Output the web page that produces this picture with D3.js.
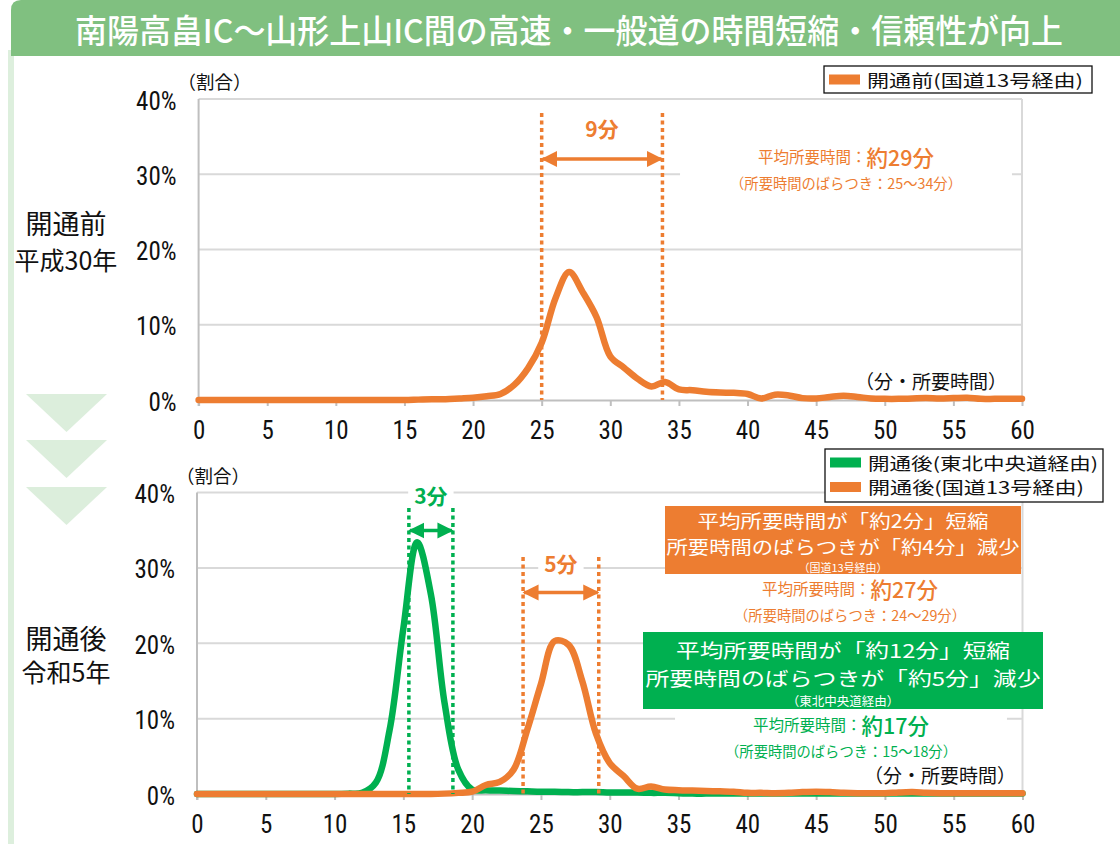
<!DOCTYPE html>
<html>
<head>
<meta charset="utf-8">
<script src="https://cdn.jsdelivr.net/npm/d3@7/dist/d3.min.js"></script>
<style>
  html, body { margin: 0; padding: 0; background: #ffffff; }
  svg { display: block; }
</style>
</head>
<body>
<script>
// ---------------- DATA ----------------
const minutes = d3.range(0, 61);
const xTickValues = [0, 5, 10, 15, 20, 25, 30, 35, 40, 45, 50, 55, 60];
const yTickValues = [0, 10, 20, 30, 40];

// 開通前(国道13号経由) 平成30年  (% share per minute)
const beforeRoute13 = [
  0, 0, 0, 0, 0, 0, 0, 0, 0, 0,
  0, 0, 0, 0, 0, 0, 0.05, 0.1, 0.1, 0.2,
  0.3, 0.5, 0.8, 2.0, 4.2, 7.6, 13.5, 17.0, 14.3, 11.0,
  5.8, 4.3, 2.8, 1.8, 2.4, 1.4, 1.3, 1.1, 1.0, 0.95,
  0.8, 0.2, 0.7, 0.6, 0.25, 0.2, 0.4, 0.55, 0.4, 0.2,
  0.15, 0.15, 0.2, 0.25, 0.2, 0.25, 0.3, 0.15, 0.15, 0.15,
  0.15
];
// 開通後(東北中央道経由) 令和5年
const afterTohokuChuo = [
  0, 0, 0, 0, 0, 0, 0, 0, 0, 0,
  0, 0.05, 0.15, 1.5, 8.5, 22.0, 33.4, 26.5, 12.0, 3.2,
  0.6, 0.5, 0.45, 0.4, 0.35, 0.3, 0.3, 0.25, 0.25, 0.25,
  0.2, 0.2, 0.2, 0.15, 0.15, 0.1, 0.05, 0.05, 0.05, 0.05,
  0.05, 0.05, 0.05, 0.05, 0.05, 0.05, 0.05, 0.05, 0.05, 0.05,
  0.05, 0.05, 0.05, 0.05, 0.05, 0.05, 0.05, 0.05, 0.05, 0.05,
  0.05
];
// 開通後(国道13号経由) 令和5年
const afterRoute13 = [
  0, 0, 0, 0, 0, 0, 0, 0, 0, 0,
  0, 0, 0, 0, 0, 0, 0, 0, 0.05, 0.15,
  0.3, 1.2, 1.6, 3.2, 8.5, 14.6, 20.3, 19.8, 15.0, 8.0,
  4.1, 2.4, 0.7, 1.0, 0.6, 0.5, 0.45, 0.4, 0.35, 0.3,
  0.15, 0.15, 0.1, 0.15, 0.25, 0.3, 0.25, 0.15, 0.1, 0.1,
  0.1, 0.2, 0.25, 0.15, 0.1, 0.1, 0.1, 0.1, 0.1, 0.1,
  0.1
];

// spread ranges (minutes) marked with dotted lines
const rangeBefore13 = [25, 33.8];
const rangeAfterChuo = [15.4, 18.6];
const rangeAfter13 = [23.7, 29.2];

const titleText = "南陽高畠IC～山形上山IC間の高速・一般道の時間短縮・信頼性が向上";
const legendTop = ["開通前(国道13号経由)"];
const legendBottom = ["開通後(東北中央道経由)", "開通後(国道13号経由)"];

// ---------------- STYLE ----------------
const ORANGE = "#ED7D31";
const GREEN = "#00B050";
const GRID = "#D9D9D9";
const AXIS = "#BFBFBF";
const JP = "'Noto Sans CJK JP', 'Noto Sans', sans-serif";
const NUM = "'Liberation Sans Narrow', 'Arial Narrow', 'Roboto Condensed', 'Liberation Sans', sans-serif";

const svg = d3.select("body").append("svg").attr("width", 1120).attr("height", 844);

// defs: arrow markers
const defs = svg.append("defs");
[["arrowO", ORANGE], ["arrowG", GREEN]].forEach(([id, c]) => {
  defs.append("marker").attr("id", id)
    .attr("viewBox", "0 0 10 10").attr("refX", 9).attr("refY", 5)
    .attr("markerWidth", 4.6).attr("markerHeight", 4.6)
    .attr("markerUnits", "strokeWidth")
    .attr("orient", "auto-start-reverse")
    .append("path").attr("d", "M0,0 L10,5 L0,10 z").attr("fill", c);
});

// ---------------- FRAME / TITLE ----------------
svg.append("rect").attr("x", 8).attr("y", 50).attr("width", 6).attr("height", 800).attr("fill", "#DDEFDD");
svg.append("path")
  .attr("d", "M11,56 L11,10 Q11,0 21,0 L1120,0 L1120,56 Z")
  .attr("fill", "#80C080");
svg.append("text").attr("x", 569).attr("y", 29)
  .attr("text-anchor", "middle").attr("dominant-baseline", "central")
  .attr("font-family", JP).attr("font-size", 33).attr("font-weight", 500)
  .attr("fill", "#ffffff")
  .attr("textLength", 988).attr("lengthAdjust", "spacingAndGlyphs")
  .text(titleText);

// triangles
[394, 440, 487].forEach(t => {
  svg.append("polygon")
    .attr("points", `26,${t} 107,${t} 66.5,${t + 38}`)
    .attr("fill", "#DCEEDC");
});

// row labels
function rowLabel(lines, ys, sizes) {
  lines.forEach((l, i) => {
    svg.append("text").attr("x", 66).attr("y", ys[i])
      .attr("text-anchor", "middle").attr("dominant-baseline", "central")
      .attr("font-family", JP).attr("font-size", sizes[i]).attr("fill", "#111")
      .text(l);
  });
}
rowLabel(["開通前", "平成30年"], [222, 259], [27, 25]);
rowLabel(["開通後", "令和5年"], [637, 671], [27, 25]);

// ---------------- PANELS ----------------
function drawPanel(cfg) {
  const { x, y, series } = cfg;
  const g = svg.append("g");
  const [x0, x1] = x.range();
  const [yb, yt] = y.range();

  g.selectAll(".grid").data(yTickValues.filter(d => d > 0)).enter()
    .append("line")
    .attr("x1", x0).attr("x2", x1)
    .attr("y1", d => y(d)).attr("y2", d => y(d))
    .attr("stroke", GRID).attr("stroke-width", 2);
  g.append("line").attr("x1", x1).attr("x2", x1).attr("y1", yt).attr("y2", yb)
    .attr("stroke", GRID).attr("stroke-width", 2);
  g.append("line").attr("x1", x0).attr("x2", x0).attr("y1", yt).attr("y2", yb + 6)
    .attr("stroke", AXIS).attr("stroke-width", 2);

  const xa = g.append("g").attr("transform", `translate(0,${yb})`)
    .call(d3.axisBottom(x).tickValues(xTickValues).tickSize(6).tickPadding(15).tickSizeOuter(0));
  xa.select(".domain").attr("stroke", AXIS).attr("stroke-width", 2);
  xa.selectAll(".tick line").attr("stroke", AXIS).attr("stroke-width", 2);
  xa.selectAll(".tick text").attr("font-family", NUM).attr("font-size", 25).attr("fill", "#111");

  const ya = g.append("g").attr("transform", `translate(${x0},0)`)
    .call(d3.axisLeft(y).tickValues(yTickValues).tickSize(0).tickPadding(22).tickFormat(d => d + "%"));
  ya.select(".domain").remove();
  ya.selectAll(".tick text").attr("font-family", NUM).attr("font-size", 25).attr("fill", "#111")
    .attr("dy", "0.4em");

  g.append("text").attr("x", x0 - 21).attr("y", yt - 18)
    .attr("dominant-baseline", "central")
    .attr("font-family", JP).attr("font-size", 18.5).attr("fill", "#111")
    .text("（割合）");

  const line = d3.line()
    .x((d, i) => x(minutes[i]))
    .y(d => y(d))
    .curve(d3.curveCatmullRom.alpha(0.5));
  const curves = g.append("g");
  series.forEach(s => {
    curves.append("path").datum(s.values)
      .attr("d", line)
      .attr("fill", "none")
      .attr("stroke", s.color).attr("stroke-width", 6.5)
      .attr("stroke-linejoin", "round").attr("stroke-linecap", "round");
  });
  return g;
}

function drawRange(g, x, y, range, color, marker, topY, arrowY, labelText, labelY, bg) {
  const rg = g.append("g");
  range.forEach(v => {
    rg.append("line")
      .attr("x1", x(v)).attr("x2", x(v))
      .attr("y1", topY).attr("y2", y(0))
      .attr("stroke", color).attr("stroke-width", 3.5)
      .attr("stroke-dasharray", "4,3.5");
  });
  rg.append("line")
    .attr("x1", x(range[0]) + 1).attr("x2", x(range[1]) - 1)
    .attr("y1", arrowY).attr("y2", arrowY)
    .attr("stroke", color).attr("stroke-width", 3.5)
    .attr("marker-start", `url(#${marker})`).attr("marker-end", `url(#${marker})`);
  const cx = (x(range[0]) + x(range[1])) / 2;
  const lg = rg.append("g");
  const t = lg.append("text").attr("x", cx).attr("y", labelY)
    .attr("text-anchor", "middle").attr("dominant-baseline", "central")
    .attr("font-family", JP).attr("font-size", 21).attr("font-weight", 700)
    .attr("fill", color).text(labelText);
  if (bg) {
    const b = t.node().getBBox();
    lg.insert("rect", () => t.node()).attr("x", b.x - 6).attr("y", b.y + 2).attr("width", b.width + 12).attr("height", b.height - 4)
      .attr("fill", "#fff");
  }
}

function statBlock(g, cx, y1, y2, color, big, range) {
  const gg = g.append("g");
  const t1 = gg.append("text").attr("x", cx).attr("y", y1)
    .attr("text-anchor", "middle").attr("dominant-baseline", "central")
    .attr("font-family", JP).attr("fill", color);
  t1.append("tspan").attr("font-size", 15.5).text("平均所要時間：");
  t1.append("tspan").attr("font-size", 21.5).attr("font-weight", 500).text(big);
  gg.append("text").attr("x", cx).attr("y", y2)
    .attr("text-anchor", "middle").attr("dominant-baseline", "central")
    .attr("font-family", JP).attr("font-size", 14.3).attr("fill", color)
    .text(`（所要時間のばらつき：${range}）`);
  const b = gg.node().getBBox();
  gg.insert("rect", () => t1.node()).attr("x", b.x - 50).attr("y", b.y - 2).attr("width", b.width + 100).attr("height", b.height + 4)
    .attr("fill", "#fff");
  return gg;
}

function unitLabel(g, cx, cy) {
  g.append("text").attr("x", cx).attr("y", cy)
    .attr("text-anchor", "middle").attr("dominant-baseline", "central")
    .attr("font-family", JP).attr("font-size", 19).attr("fill", "#111")
    .text("（分・所要時間）");
}

function legend(entries, colors, widths, bx, by, rowH, boxW, boxH) {
  const g = svg.append("g");
  g.append("rect").attr("x", bx).attr("y", by).attr("width", boxW).attr("height", boxH)
    .attr("fill", "#fff").attr("stroke", "#111").attr("stroke-width", 1.3);
  entries.forEach((e, i) => {
    const cy = by + 13.5 + i * rowH;
    g.append("rect").attr("x", bx + 5).attr("y", cy - 5).attr("width", 31).attr("height", 10).attr("fill", colors[i]);
    g.append("text").attr("x", bx + 43).attr("y", cy)
      .attr("dominant-baseline", "central")
      .attr("font-family", JP).attr("font-size", 16.8).attr("fill", "#111")
      .attr("textLength", widths[i]).attr("lengthAdjust", "spacingAndGlyphs")
      .text(e);
  });
}

function box(cx, x0, x1, y0, y1, fill, lines) {
  const g = svg.append("g");
  g.append("rect").attr("x", x0).attr("y", y0).attr("width", x1 - x0).attr("height", y1 - y0).attr("fill", fill);
  lines.forEach(l => {
    const t = g.append("text").attr("x", cx).attr("y", l.y)
      .attr("text-anchor", "middle").attr("dominant-baseline", "central")
      .attr("font-family", JP).attr("font-size", l.size).attr("fill", "#fff").text(l.text);
    if (l.width) t.attr("textLength", l.width).attr("lengthAdjust", "spacingAndGlyphs");
  });
}

// ---- top panel ----
const xTop = d3.scaleLinear().domain([0, 60]).range([198.6, 1022]);
const yTop = d3.scaleLinear().domain([0, 40]).range([400, 99]);
const gTop = drawPanel({ x: xTop, y: yTop, series: [{ values: beforeRoute13, color: ORANGE }] });
statBlock(gTop, 846, 156, 182, ORANGE, "約29分", "25～34分");
unitLabel(gTop, 931, 380);
drawRange(gTop, xTop, yTop, rangeBefore13, ORANGE, "arrowO", 113, 159, "9分", 128, false);
legend(legendTop, [ORANGE], [216], 824, 66, 24, 268, 27);

// ---- bottom panel ----
const xBot = d3.scaleLinear().domain([0, 60]).range([197, 1022.5]);
const yBot = d3.scaleLinear().domain([0, 40]).range([794, 492.5]);
const gBot = drawPanel({ x: xBot, y: yBot, series: [
  { values: afterTohokuChuo, color: GREEN },
  { values: afterRoute13, color: ORANGE }
] });
drawRange(gBot, xBot, yBot, rangeAfterChuo, GREEN, "arrowG", 508, 530.5, "3分", 495, true);
drawRange(gBot, xBot, yBot, rangeAfter13, ORANGE, "arrowO", 557, 592.5, "5分", 563, true);
statBlock(gBot, 850, 588, 614, ORANGE, "約27分", "24～29分");
statBlock(gBot, 841, 724, 750, GREEN, "約17分", "15～18分");
unitLabel(gBot, 940, 774);

legend(legendBottom, [GREEN, ORANGE], [230, 216], 825, 449, 24.5, 278, 53);

box(843, 665, 1021, 506, 574, ORANGE, [
  { text: "平均所要時間が「約2分」短縮", y: 520, size: 18, width: 291 },
  { text: "所要時間のばらつきが「約4分」減少", y: 546, size: 18, width: 353 },
  { text: "（国道13号経由）", y: 566.5, size: 11 }
]);
box(843, 643, 1043, 632, 709, GREEN, [
  { text: "平均所要時間が「約12分」短縮", y: 649, size: 19, width: 334 },
  { text: "所要時間のばらつきが「約5分」減少", y: 677, size: 19, width: 395 },
  { text: "（東北中央道経由）", y: 700, size: 12.5 }
]);
</script>
</body>
</html>
